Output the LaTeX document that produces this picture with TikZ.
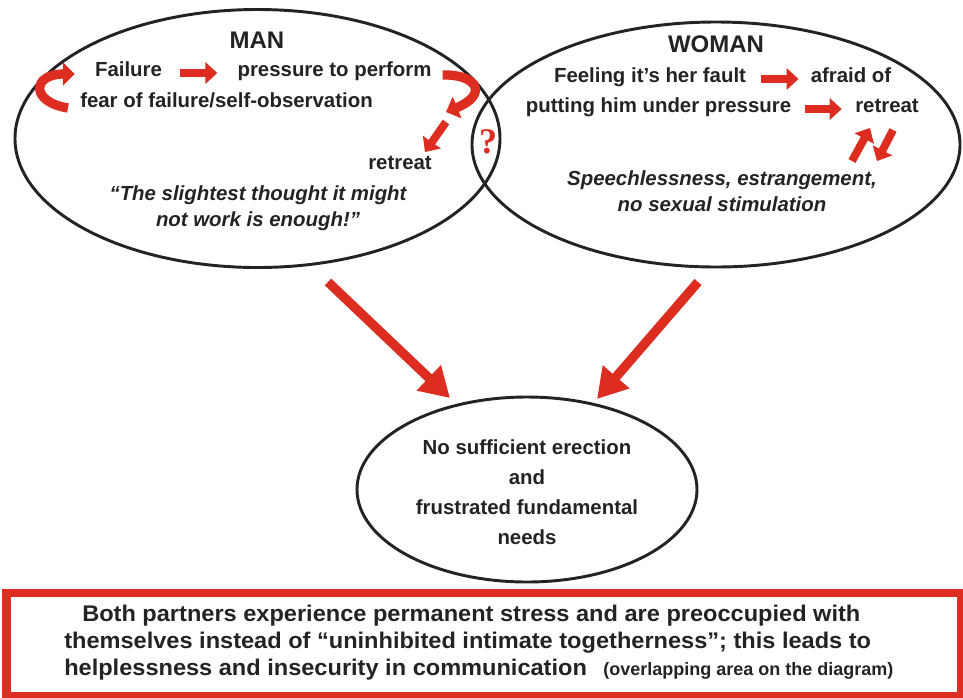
\documentclass[tikz,border=0pt]{standalone}
\usepackage{fontspec}
\setmainfont{Liberation Sans}
\newfontfamily\qfont{Liberation Serif}
\newfontfamily\wfont[FakeStretch=1.04]{Liberation Sans}
\usetikzlibrary{shapes.geometric,arrows.meta,calc}
\definecolor{redc}{RGB}{220,45,32}
\definecolor{txt}{RGB}{35,35,38}
\begin{document}
\begin{tikzpicture}[x=0.75pt,y=-0.75pt,
  txtn/.style={inner sep=0pt, text=txt, font=\bfseries\fontsize{15.3}{19.5}\selectfont, text height=0.72em, text depth=0.2em},
  ttl/.style={inner sep=0pt, text=txt, font=\bfseries\fontsize{18}{22}\selectfont},
  itn/.style={inner sep=0pt, text=txt, align=center, font=\bfseries\itshape\fontsize{15.3}{19.5}\selectfont},
  oval/.style={draw=txt, ellipse, line width=2.2pt, inner sep=0pt},
  blk/.style={draw=redc, line width=6pt, -{Triangle[length=9pt,width=16pt]}},
  carrow/.style={draw=redc, line width=7pt, -{Triangle[length=9pt,width=17pt]}},
  bigarrow/.style={draw=redc, line width=7pt, -{Triangle[length=22pt,width=25pt]}},
  boxtxt/.style={inner sep=0pt, anchor=base west, text=txt, font=\wfont\bfseries\fontsize{17}{20}\selectfont}
]
\useasboundingbox (0,0) rectangle (963,697);

% ellipses
\node[oval, minimum width=363.75pt, minimum height=193.5pt] (man) at (257.5,138.5) {};
\node[oval, minimum width=366pt, minimum height=183.75pt] (woman) at (716,144.5) {};
\node[oval, minimum width=255pt, minimum height=138.75pt] (result) at (527,489.5) {};

% MAN side
\node[ttl] (mant) at (257,40) {MAN};
\node[txtn] (failure) at (128.5,73) {Failure};
\node[txtn] (pressure) at (334.5,73) {pressure to perform};
\node[txtn] (fear) at (226.5,104) {fear of failure/self-observation};
\node[txtn] (mretreat) at (400,166) {retreat};
\node[itn] (quote) at (258,208) {“The slightest thought it might\\ not work is enough!”};

\draw[blk, shorten <=13pt, shorten >=15pt] (failure.east) -- (pressure.west);
\coordinate (fl) at ($(fear.west)+(-12,4)$);
\coordinate (fr) at ($(failure.west)+(-20,1)$);
\draw[carrow] (fl) .. controls (30,102) and (32,74) .. (fr);
\coordinate (pr) at ($(pressure.east)+(11,2)$);
\coordinate (pe) at (446,112);
\draw[carrow] (pr) .. controls (478,74) and (488,95) .. (pe);
\coordinate (ms) at (446,122);
\coordinate (me) at (425,152);
\draw[blk] (ms) -- (me);

% WOMAN side
\node[ttl] (womant) at (716,44) {WOMAN};
\node[txtn] (feel) at (650,79) {Feeling it’s her fault};
\node[txtn] (afraid) at (851,79) {afraid of};
\node[txtn] (putting) at (658.5,109) {putting him under pressure};
\node[txtn] (wretreat) at (887,109) {retreat};
\node[itn] (speech) at (722,191) {Speechlessness, estrangement,\\ no sexual stimulation};

\draw[blk, shorten <=11pt, shorten >=9pt] (feel.east) -- (afraid.west);
\draw[blk, shorten <=10pt, shorten >=10pt] (putting.east) -- (wretreat.west);
\coordinate (u1) at (852,161);
\coordinate (u2) at (870,128);
\coordinate (d1) at (893,130);
\coordinate (d2) at (877,161);
\draw[blk] (u1) -- (u2);
\draw[blk] (d1) -- (d2);

% question mark in overlap
\node[inner sep=0pt, text=redc, font=\qfont\bfseries\fontsize{27}{29}\selectfont] (q) at (488,142) {?};

% big arrows
\coordinate (bl1) at (328,282);
\coordinate (bl2) at (450,398);
\coordinate (br1) at (698,282);
\coordinate (br2) at (597,399);
\draw[bigarrow] (bl1) -- (bl2);
\draw[bigarrow] (br1) -- (br2);

% result text
\node[txtn, align=center, text height=, text depth=, font=\bfseries\fontsize{15.3}{22.5}\selectfont] (restxt) at (527,492)
  {No sufficient erection\\ and\\ frustrated fundamental\\ needs};

% bottom box
\node[draw=redc, line width=6.5pt, minimum width=716pt, minimum height=77.25pt, inner sep=0pt] (box) at (484,644.5) {};
\node[boxtxt] (b1) at (82,621) {Both partners experience permanent stress and are preoccupied with};
\node[boxtxt] (b2) at (64,648) {themselves instead of “uninhibited intimate togetherness”; this leads to};
\node[boxtxt] (b3) at (64,675) {helplessness and insecurity in communication};
\node[boxtxt, font=\bfseries\fontsize{13.5}{16}\selectfont] (b4) at (603,675) {(overlapping area on the diagram)};
\end{tikzpicture}
\end{document}
